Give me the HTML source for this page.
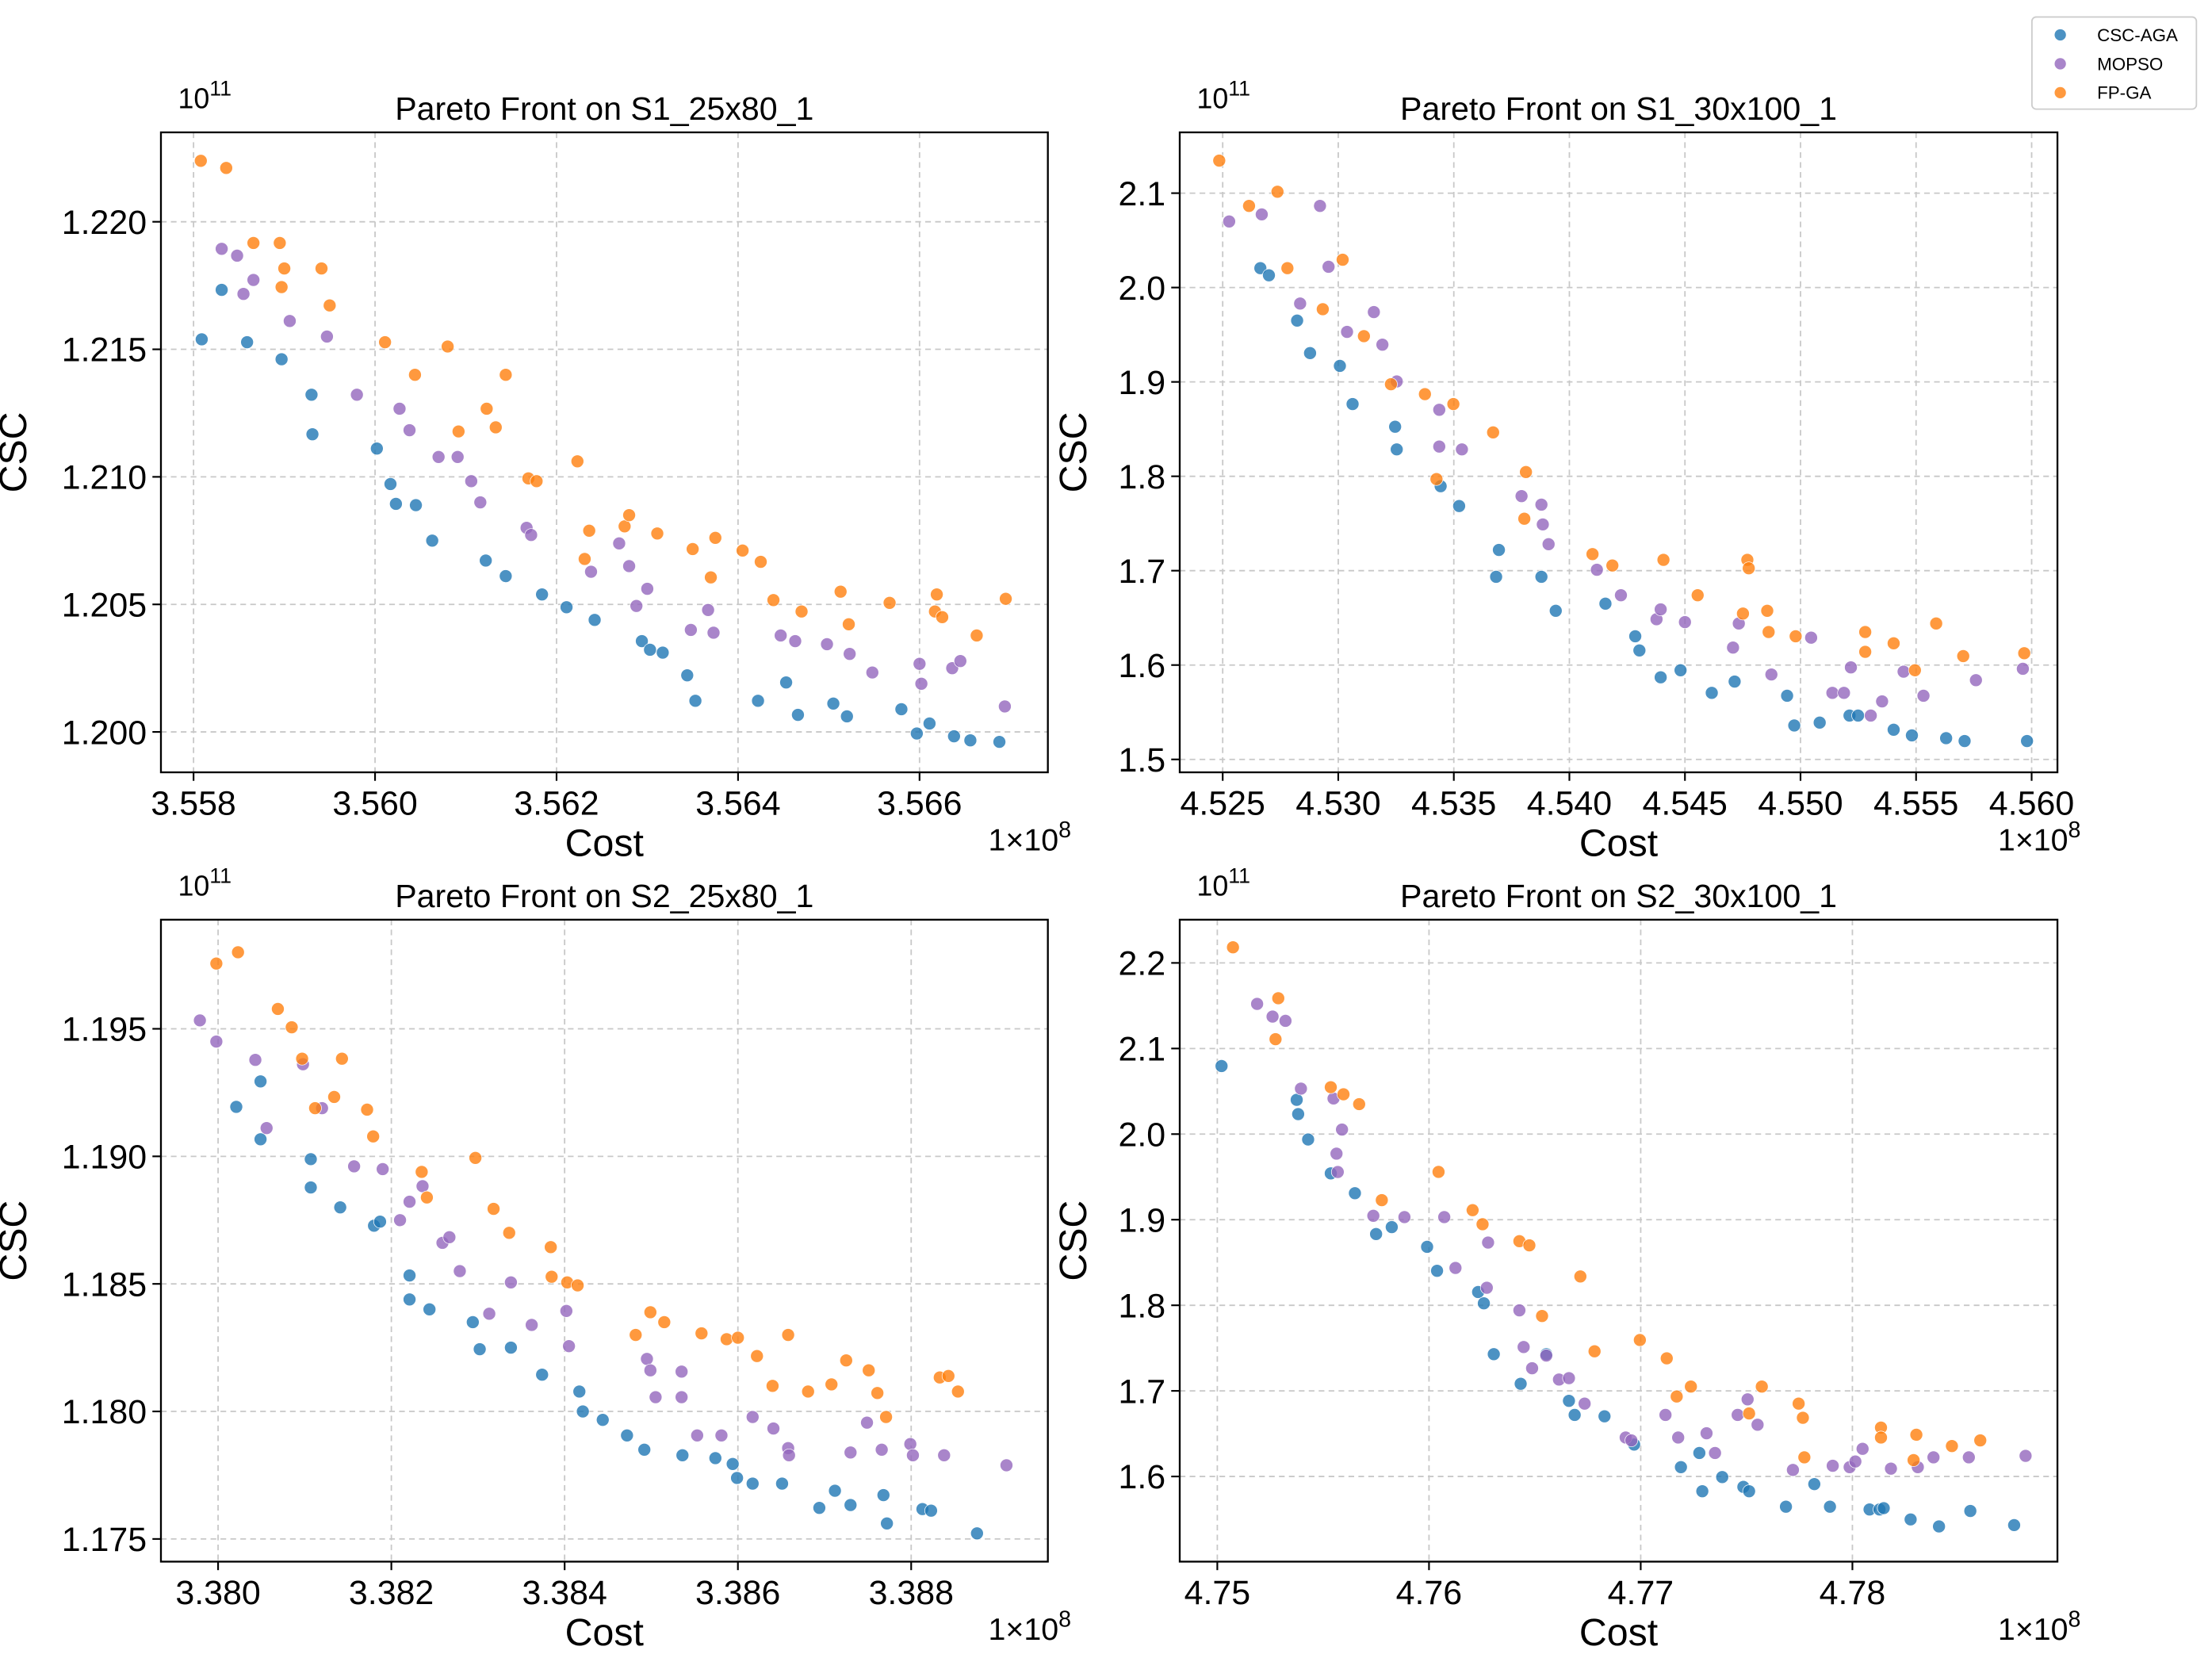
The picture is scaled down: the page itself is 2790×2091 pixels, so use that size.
<!DOCTYPE html>
<html><head><meta charset="utf-8"><style>
html,body{margin:0;padding:0;background:#fff;}
svg{display:block;font-family:"Liberation Sans",Arial,sans-serif;}
</style></head><body>
<svg id="chart" xmlns="http://www.w3.org/2000/svg" width="2790" height="2091" viewBox="0 0 1560 1170" preserveAspectRatio="none">
<g id="legend">
<rect x="1433" y="12" width="116" height="65" rx="3" fill="#fff" stroke="#cccccc" stroke-width="1"/>
<g><circle cx="1453" cy="24.6" r="4" fill="#1f77b4" fill-opacity="0.8"/><text x="1479" y="29" font-size="12.5">CSC-AGA</text></g>
<g><circle cx="1453" cy="45" r="4" fill="#9467bd" fill-opacity="0.8"/><text x="1479" y="49.4" font-size="12.5">MOPSO</text></g>
<g><circle cx="1453" cy="65.4" r="4" fill="#ff7f0e" fill-opacity="0.8"/><text x="1479" y="69.8" font-size="12.5">FP-GA</text></g>
</g>
</svg>
<script>
// ---------- Panel 1: S1_25x80_1 ----------
const p1Aga = [[3.55809,1.21539],[3.55831,1.21733],[3.55859,1.21528],[3.55897,1.21461],[3.5593,1.21322],[3.55931,1.21167],[3.56002,1.21111],[3.56017,1.20972],[3.56023,1.20894],[3.56045,1.20889],[3.56063,1.2075],[3.56122,1.20672],[3.56144,1.20611],[3.56184,1.20539],[3.56211,1.20489],[3.56242,1.20439],[3.56294,1.20356],[3.56303,1.20322],[3.56317,1.20311],[3.56344,1.20222],[3.56353,1.20122],[3.56422,1.20122],[3.56453,1.20194],[3.56466,1.20067],[3.56505,1.20111],[3.5652,1.20061],[3.5658,1.20089],[3.56597,1.19994],[3.56611,1.20033],[3.56638,1.19983],[3.56656,1.19967],[3.56688,1.19961]];
const p1Mopso = [[3.55831,1.21894],[3.55848,1.21867],[3.55855,1.21717],[3.55866,1.21772],[3.55906,1.21611],[3.55947,1.2155],[3.5598,1.21322],[3.56027,1.21267],[3.56038,1.21183],[3.5607,1.21078],[3.56091,1.21078],[3.56106,1.20983],[3.56116,1.209],[3.56167,1.208],[3.56172,1.20772],[3.56238,1.20628],[3.56269,1.20739],[3.5628,1.2065],[3.56288,1.20494],[3.563,1.20561],[3.56348,1.204],[3.56367,1.20478],[3.56373,1.20389],[3.56447,1.20378],[3.56463,1.20356],[3.56498,1.20344],[3.56523,1.20306],[3.56548,1.20233],[3.566,1.20267],[3.56602,1.20189],[3.56636,1.2025],[3.56645,1.20278],[3.56694,1.201]];
const p1Fpga = [[3.55808,1.22239],[3.55836,1.22211],[3.55866,1.21917],[3.55895,1.21917],[3.559,1.21817],[3.55897,1.21744],[3.55941,1.21817],[3.5595,1.21672],[3.56011,1.21528],[3.56044,1.214],[3.5608,1.21511],[3.56092,1.21178],[3.56123,1.21267],[3.56133,1.21194],[3.56144,1.214],[3.56169,1.20994],[3.56178,1.20983],[3.56223,1.21061],[3.56236,1.20789],[3.56231,1.20678],[3.56275,1.20806],[3.5628,1.2085],[3.56311,1.20778],[3.5635,1.20717],[3.5637,1.20606],[3.56375,1.20761],[3.56405,1.20711],[3.56425,1.20667],[3.56439,1.20517],[3.5647,1.20472],[3.56513,1.2055],[3.56522,1.20422],[3.56567,1.20506],[3.56619,1.20539],[3.56617,1.20472],[3.56625,1.2045],[3.56663,1.20378],[3.56695,1.20522]];
const p1XTicks = [3.558,3.560,3.562,3.564,3.566];
const p1XLabels = ["3.558","3.560","3.562","3.564","3.566"];
const p1YTicks = [1.200,1.205,1.210,1.215,1.220];
const p1YLabels = ["1.200","1.205","1.210","1.215","1.220"];

// ---------- Panel 2: S1_30x100_1 ----------
const p2Aga = [[4.52663,2.0205],[4.527,2.013],[4.52822,1.965],[4.52878,1.9305],[4.53007,1.917],[4.53062,1.8765],[4.53246,1.8525],[4.53253,1.8285],[4.53443,1.7895],[4.53523,1.7685],[4.53683,1.6935],[4.53695,1.722],[4.53879,1.6935],[4.53941,1.6575],[4.54156,1.665],[4.54285,1.6305],[4.54303,1.6155],[4.54395,1.587],[4.54481,1.5945],[4.54616,1.5705],[4.54715,1.5825],[4.54942,1.5675],[4.54973,1.536],[4.55083,1.539],[4.55212,1.5465],[4.55249,1.5465],[4.55403,1.5315],[4.55482,1.5255],[4.5563,1.5225],[4.5571,1.5195],[4.5598,1.5195]];
const p2Mopso = [[4.52528,2.07],[4.52669,2.0775],[4.52921,2.0865],[4.52835,1.983],[4.52958,2.022],[4.53038,1.953],[4.53154,1.974],[4.53191,1.9395],[4.53253,1.9005],[4.53437,1.8705],[4.53437,1.8315],[4.53535,1.8285],[4.53793,1.779],[4.53879,1.77],[4.53885,1.749],[4.5391,1.728],[4.54119,1.701],[4.54223,1.674],[4.54377,1.6485],[4.54395,1.659],[4.545,1.6455],[4.54708,1.6185],[4.54733,1.644],[4.54874,1.59],[4.55046,1.629],[4.55138,1.5705],[4.55188,1.5705],[4.55218,1.5975],[4.55304,1.5465],[4.55353,1.5615],[4.55446,1.593],[4.55532,1.5675],[4.55759,1.584],[4.55962,1.596]];
const p2Fpga = [[4.52485,2.1345],[4.52614,2.0865],[4.52737,2.1015],[4.5278,2.0205],[4.52933,1.977],[4.53019,2.0295],[4.53111,1.9485],[4.53228,1.8975],[4.53375,1.887],[4.53425,1.797],[4.53498,1.8765],[4.5367,1.8465],[4.53812,1.8045],[4.53805,1.755],[4.541,1.7175],[4.54186,1.7055],[4.54407,1.7115],[4.54555,1.674],[4.5477,1.7115],[4.54776,1.7025],[4.54751,1.6545],[4.54856,1.6575],[4.54862,1.635],[4.54979,1.6305],[4.5528,1.635],[4.5528,1.614],[4.55403,1.623],[4.55495,1.5945],[4.55587,1.644],[4.55704,1.6095],[4.55968,1.6125]];
const p2XTicks = [4.525,4.530,4.535,4.540,4.545,4.550,4.555,4.560];
const p2XLabels = ["4.525","4.530","4.535","4.540","4.545","4.550","4.555","4.560"];
const p2YTicks = [1.5,1.6,1.7,1.8,1.9,2.0,2.1];
const p2YLabels = ["1.5","1.6","1.7","1.8","1.9","2.0","2.1"];

// ---------- Panel 3: S2_25x80_1 ----------
const p3Aga = [[3.38021,1.19194],[3.38049,1.19294],[3.38049,1.19067],[3.38107,1.18989],[3.38107,1.18878],[3.38141,1.188],[3.3818,1.18728],[3.38187,1.18744],[3.38221,1.18533],[3.38221,1.18439],[3.38244,1.184],[3.38294,1.1835],[3.38302,1.18244],[3.38338,1.1825],[3.38374,1.18144],[3.38417,1.18078],[3.38421,1.18],[3.38444,1.17967],[3.38472,1.17906],[3.38492,1.1785],[3.38536,1.17828],[3.38574,1.17817],[3.38594,1.17794],[3.38599,1.17739],[3.38617,1.17717],[3.38651,1.17717],[3.38694,1.17622],[3.38712,1.17689],[3.3873,1.17633],[3.38768,1.17672],[3.38772,1.17561],[3.38813,1.17617],[3.38823,1.17611],[3.38876,1.17522]];
const p3Mopso = [[3.37979,1.19533],[3.37998,1.1945],[3.38043,1.19378],[3.38056,1.19111],[3.38098,1.19361],[3.3812,1.19189],[3.38157,1.18961],[3.3819,1.1895],[3.3821,1.1875],[3.38221,1.18822],[3.38236,1.18883],[3.38259,1.18661],[3.38267,1.18683],[3.38279,1.1855],[3.38313,1.18383],[3.38338,1.18506],[3.38362,1.18339],[3.38402,1.18394],[3.38405,1.18256],[3.38495,1.18206],[3.38499,1.18161],[3.38505,1.18056],[3.38535,1.18156],[3.38535,1.18056],[3.38553,1.17906],[3.38581,1.17906],[3.38617,1.17978],[3.38641,1.17933],[3.38658,1.17856],[3.38659,1.17828],[3.3873,1.17839],[3.38749,1.17956],[3.38766,1.1785],[3.38799,1.17872],[3.38802,1.17828],[3.38838,1.17828],[3.3891,1.17789]];
const p3Fpga = [[3.37998,1.19756],[3.38023,1.198],[3.38069,1.19578],[3.38085,1.19506],[3.38097,1.19383],[3.38112,1.19189],[3.38134,1.19233],[3.38143,1.19383],[3.38172,1.19183],[3.38179,1.19078],[3.38235,1.18939],[3.38241,1.18839],[3.38297,1.18994],[3.38318,1.18794],[3.38336,1.187],[3.38384,1.18644],[3.38385,1.18528],[3.38403,1.18506],[3.38415,1.18494],[3.38482,1.183],[3.38499,1.18389],[3.38515,1.1835],[3.38558,1.18306],[3.38587,1.18283],[3.386,1.18289],[3.38622,1.18217],[3.3864,1.181],[3.38658,1.183],[3.38681,1.18078],[3.38708,1.18106],[3.38725,1.182],[3.38751,1.18161],[3.38761,1.18072],[3.38771,1.17978],[3.38833,1.18133],[3.38843,1.18139],[3.38854,1.18078]];
const p3XTicks = [3.380,3.382,3.384,3.386,3.388];
const p3XLabels = ["3.380","3.382","3.384","3.386","3.388"];
const p3YTicks = [1.175,1.180,1.185,1.190,1.195];
const p3YLabels = ["1.175","1.180","1.185","1.190","1.195"];

// ---------- Panel 4: S2_30x100_1 ----------
const p4Aga = [[4.7502,2.0795],[4.75375,2.04],[4.75382,2.0234],[4.75429,1.9937],[4.75536,1.9541],[4.7565,1.931],[4.7575,1.8832],[4.75824,1.8914],[4.75991,1.8683],[4.76038,1.8403],[4.76232,1.8155],[4.76259,1.8023],[4.76306,1.7429],[4.76433,1.7083],[4.76554,1.7429],[4.76661,1.6884],[4.76688,1.6719],[4.76829,1.6703],[4.76969,1.6373],[4.7719,1.6109],[4.77277,1.6274],[4.77291,1.5828],[4.77385,1.5993],[4.77485,1.5878],[4.77512,1.5828],[4.77686,1.5647],[4.7782,1.5911],[4.77894,1.5647],[4.78081,1.5614],[4.78128,1.5614],[4.78148,1.563],[4.78275,1.5498],[4.78409,1.5416],[4.78557,1.5597],[4.78764,1.5432]];
const p4Mopso = [[4.75188,2.1521],[4.75261,2.1373],[4.75322,2.1323],[4.75395,2.0531],[4.75549,2.0416],[4.75589,2.0053],[4.75563,1.9772],[4.75569,1.9557],[4.75737,1.9046],[4.75884,1.903],[4.76072,1.903],[4.76125,1.8436],[4.76279,1.8733],[4.76273,1.8205],[4.76427,1.7941],[4.76447,1.7512],[4.76487,1.7264],[4.76554,1.7413],[4.76614,1.7132],[4.76661,1.7149],[4.76735,1.6851],[4.76929,1.6455],[4.76956,1.6422],[4.77117,1.6719],[4.77177,1.6455],[4.77311,1.6505],[4.77351,1.6274],[4.77458,1.6719],[4.77505,1.6901],[4.77552,1.6604],[4.77719,1.6076],[4.77907,1.6125],[4.77987,1.6109],[4.78014,1.6175],[4.78048,1.6323],[4.78182,1.6092],[4.78309,1.6109],[4.78383,1.6224],[4.7855,1.6224],[4.78818,1.6241]];
const p4Fpga = [[4.75074,2.2182],[4.75275,2.1109],[4.75288,2.1587],[4.75536,2.0548],[4.75596,2.0465],[4.7567,2.035],[4.75777,1.9228],[4.76045,1.9558],[4.76206,1.9112],[4.76253,1.8947],[4.76427,1.8749],[4.76474,1.87],[4.76534,1.7875],[4.76715,1.8337],[4.76782,1.7462],[4.76996,1.7594],[4.77123,1.738],[4.7717,1.6934],[4.77237,1.705],[4.77512,1.6736],[4.77572,1.705],[4.77746,1.6851],[4.77766,1.6686],[4.77773,1.6224],[4.78135,1.6571],[4.78135,1.6455],[4.78302,1.6488],[4.78289,1.6191],[4.7847,1.6356],[4.78604,1.6422]];
const p4XTicks = [4.75,4.76,4.77,4.78];
const p4XLabels = ["4.75","4.76","4.77","4.78"];
const p4YTicks = [1.6,1.7,1.8,1.9,2.0,2.1,2.2];
const p4YLabels = ["1.6","1.7","1.8","1.9","2.0","2.1","2.2"];

const seriesColors = ["#1f77b4","#9467bd","#ff7f0e"];
const seriesNames = ["csc-aga","mopso","fp-ga"];

const NS = "http://www.w3.org/2000/svg";
const svg = document.getElementById("chart");
function mk(tag, attrs, parent){ const e=document.createElementNS(NS,tag); for(const k in attrs) e.setAttribute(k,attrs[k]); (parent||svg).appendChild(e); return e; }

const panels = [
 {id:"s1-25x80", title:"Pareto Front on S1_25x80_1", box:[113.5,93.4,739,545], ylab:95, x0:3.558,x0p:136.5,xs:64/0.001, y0:1.220,y0p:156.5,ys:18/0.001, series:[p1Aga,p1Mopso,p1Fpga], xt:p1XTicks,xl:p1XLabels,yt:p1YTicks,yl:p1YLabels},
 {id:"s1-30x100", title:"Pareto Front on S1_30x100_1", box:[832,93.4,1451,545], ylab:66, x0:4.525,x0p:862.3,xs:81.5/0.005, y0:2.1,y0p:136.3,ys:66.6/0.1, series:[p2Aga,p2Mopso,p2Fpga], xt:p2XTicks,xl:p2XLabels,yt:p2YTicks,yl:p2YLabels},
 {id:"s2-25x80", title:"Pareto Front on S2_25x80_1", box:[113.5,649,739,1102], ylab:95, x0:3.380,x0p:153.8,xs:61.1/0.001, y0:1.195,y0p:726,ys:18/0.001, series:[p3Aga,p3Mopso,p3Fpga], xt:p3XTicks,xl:p3XLabels,yt:p3YTicks,yl:p3YLabels},
 {id:"s2-30x100", title:"Pareto Front on S2_30x100_1", box:[832,649,1451,1102], ylab:66, x0:4.75,x0p:858.5,xs:149.3/0.01, y0:2.2,y0p:679.5,ys:60.4/0.1, series:[p4Aga,p4Mopso,p4Fpga], xt:p4XTicks,xl:p4XLabels,yt:p4YTicks,yl:p4YLabels}
];

panels.forEach(p=>{
  const [L,T,R,B]=p.box;
  const sx=v=>p.x0p+(v-p.x0)*p.xs;
  const sy=v=>p.y0p-(v-p.y0)*p.ys;
  const g=mk("g",{});
  
  
  p.xt.forEach((v,i)=>{
    const x=sx(v);
    const gl=mk("line",{x1:x,x2:x,y1:T,y2:B,stroke:"#c8c8c8","stroke-width":1,"stroke-dasharray":"4,3"},g);
    
    
    mk("line",{x1:x,x2:x,y1:B,y2:B+6,stroke:"#000","stroke-width":1.2},g);
    const t=mk("text",{x:x,y:B+30,"font-size":"24","text-anchor":"middle"},g);
    t.textContent=p.xl[i];
    
    
  });
  p.yt.forEach((v,i)=>{
    const y=sy(v);
    const gl=mk("line",{x1:L,x2:R,y1:y,y2:y,stroke:"#c8c8c8","stroke-width":1,"stroke-dasharray":"4,3"},g);
    
    
    mk("line",{x1:L-6,x2:L,y1:y,y2:y,stroke:"#000","stroke-width":1.2},g);
    const t=mk("text",{x:L-10,y:y+8.5,"font-size":"24","text-anchor":"end"},g);
    t.textContent=p.yl[i];
    
    
  });
  p.series.forEach((s,si)=>{
    const sg=mk("g",{},g);
    
    
    s.forEach(d=>{
      const c=mk("circle",{cx:sx(d[0]),cy:sy(d[1]),r:4.5,fill:seriesColors[si],"fill-opacity":0.8,stroke:"#fff","stroke-width":0.4},sg);
      
      
    });
  });
  const fr=mk("rect",{x:L,y:T,width:R-L,height:B-T,fill:"none",stroke:"#000","stroke-width":1.3},g);
  
  
  const cx=(L+R)/2;
  const tt=mk("text",{x:cx,y:T-9,"font-size":"23","text-anchor":"middle"},g);
  tt.textContent=p.title;
  
  
  const xa=mk("text",{x:cx,y:B+59,"font-size":"27","text-anchor":"middle"},g);
  xa.textContent="Cost";
  
  
  const yx=L-p.ylab, yy=(T+B)/2;
  const ya=mk("text",{x:yx,y:yy,"font-size":"27","text-anchor":"middle",transform:"rotate(-90 "+yx+" "+yy+")"},g);
  ya.textContent="CSC";
  
  
  const yo=mk("text",{x:L+12,y:T-17,"font-size":"20"},g);
  yo.innerHTML='10<tspan dy="-9" font-size="15">11</tspan>';
  
  
  const xo=mk("text",{x:R-42,y:B+55,"font-size":"22"},g);
  xo.innerHTML='1×10<tspan dy="-9" font-size="16">8</tspan>';
  
  
});
</script>
</body></html>
